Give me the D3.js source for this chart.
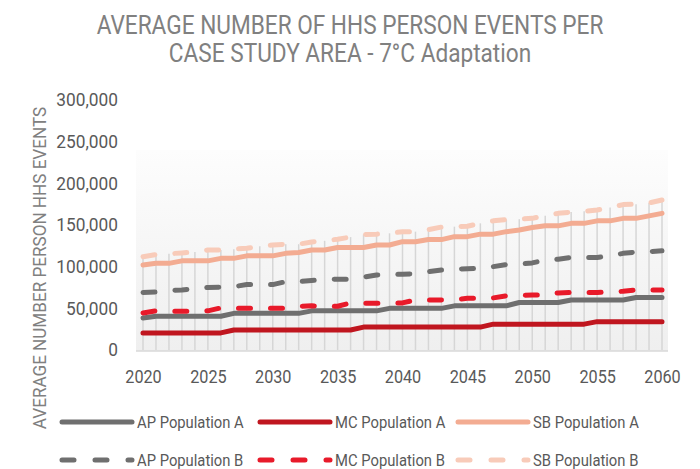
<!DOCTYPE html>
<html>
<head>
<meta charset="utf-8">
<script src="https://cdn.jsdelivr.net/npm/d3@7"></script>
<style>
  html, body { margin: 0; padding: 0; background: #ffffff; }
  svg { display: block; }
  text { font-family: Roboto, "Noto Sans", sans-serif; }
</style>
</head>
<body>
<svg id="chart" width="700" height="469"></svg>
<script>
// Years on the category axis
const years = d3.range(2020, 2061);

// Average number of HHS person events per year, by case study area
const apPopA = [38500, 40500, 40500, 40500, 40500, 40500, 40500, 44000, 44000, 44000,
  44000, 44000, 44000, 47000, 47000, 47000, 47000, 47000, 47000, 50000,
  50000, 50000, 50000, 50000, 53000, 53000, 53000, 53000, 53000, 57000,
  57000, 57000, 57000, 60000, 60000, 60000, 60000, 60000, 63000, 63000, 63000];
const mcPopA = [20500, 20500, 20500, 20500, 20500, 20500, 20500, 24000, 24000, 24000,
  24000, 24000, 24000, 24000, 24000, 24000, 24000, 27500, 27500, 27500,
  27500, 27500, 27500, 27500, 27500, 27500, 27500, 31000, 31000, 31000,
  31000, 31000, 31000, 31000, 31000, 34000, 34000, 34000, 34000, 34000, 34000];
const sbPopA = [102000, 104000, 104000, 107000, 107000, 107000, 110000, 110000, 113000, 113000,
  113000, 116000, 117000, 120000, 120000, 123000, 123000, 123000, 126000, 126000,
  130000, 130000, 132500, 132500, 136000, 136000, 139000, 139000, 142000, 144000,
  147000, 149000, 149000, 152000, 152000, 155000, 155000, 158000, 158000, 161000, 164000];
const apPopB = [69000, 69500, 71500, 72000, 73500, 75000, 75500, 76000, 78500, 78500,
  78500, 82000, 82000, 83500, 84500, 85000, 85000, 87500, 90000, 90500,
  91000, 91500, 94000, 96000, 97000, 97500, 98000, 100000, 102500, 103000,
  104500, 108000, 109000, 111000, 111000, 111000, 113000, 116000, 117500, 118000, 119000];
const mcPopB = [44500, 47000, 46500, 46500, 46500, 47000, 50500, 50000, 50000, 50000,
  50000, 50000, 52500, 53000, 52000, 52500, 56500, 56000, 56000, 56000,
  56500, 60000, 60000, 60000, 60500, 62000, 62000, 62500, 65000, 65500,
  66000, 66000, 68500, 69000, 69000, 69000, 69500, 70500, 72000, 72000, 72000];
const sbPopB = [112000, 114500, 115500, 116500, 117500, 120000, 120000, 121000, 122000, 124500,
  126000, 127000, 127000, 129500, 131000, 133000, 135500, 138500, 139000, 140000,
  142000, 142000, 144500, 147500, 148000, 148500, 152000, 155000, 156500, 157000,
  158000, 161000, 164000, 165500, 166500, 168000, 171000, 174500, 175000, 176500, 180000];

const yTicks = [0, 50000, 100000, 150000, 200000, 250000, 300000];
const xTicks = [2020, 2025, 2030, 2035, 2040, 2045, 2050, 2055, 2060];

const titleLines = ["AVERAGE NUMBER OF HHS PERSON EVENTS PER", "CASE STUDY AREA - 7°C Adaptation"];
const yTitle = "AVERAGE NUMBER PERSON HHS EVENTS";

const series = [
  { name: "AP Population A", values: apPopA, color: "#6f6f6f", dashed: false },
  { name: "MC Population A", values: mcPopA, color: "#c0161f", dashed: false },
  { name: "SB Population A", values: sbPopA, color: "#f3ac92", dashed: false },
  { name: "AP Population B", values: apPopB, color: "#6f6f6f", dashed: true },
  { name: "MC Population B", values: mcPopB, color: "#e81a2a", dashed: true },
  { name: "SB Population B", values: sbPopB, color: "#f8cbb9", dashed: true }
];

const svg = d3.select("#chart");

// Narrow-face look: squeeze each text horizontally by a common factor
function condense(sel, k) {
  sel.each(function () {
    const w = this.getComputedTextLength();
    if (w > 0) {
      d3.select(this).attr("textLength", w * k).attr("lengthAdjust", "spacingAndGlyphs");
    }
  });
}

const x = d3.scaleLinear().domain([2020, 2060]).range([143, 662]);
const y = d3.scaleLinear().domain([0, 300000]).range([350, 100]);

// Plot background with a soft vertical gradient
const defs = svg.append("defs");
const grad = defs.append("linearGradient")
  .attr("id", "plotBg").attr("x1", 0).attr("y1", 0).attr("x2", 0).attr("y2", 1);
grad.append("stop").attr("offset", "0%").attr("stop-color", "#fdfdfd");
grad.append("stop").attr("offset", "100%").attr("stop-color", "#efefef");

svg.append("rect")
  .attr("x", 136).attr("y", 150)
  .attr("width", 532).attr("height", 201)
  .attr("fill", "url(#plotBg)");

// Title
const title = svg.append("g").selectAll("text")
  .data(titleLines)
  .join("text")
  .attr("x", 350)
  .attr("y", (d, i) => 34 + i * 28)
  .attr("text-anchor", "middle")
  .attr("font-size", 26)
  .attr("fill", "#808080")
  .text(d => d);
condense(title, 0.87);

// Drop lines from the highest series down to the axis
const maxPerYear = years.map((yr, i) => d3.max(series, s => s.values[i]));
svg.append("g").selectAll("line")
  .data(years)
  .join("line")
  .attr("x1", d => x(d)).attr("x2", d => x(d))
  .attr("y1", (d, i) => y(maxPerYear[i]))
  .attr("y2", y(0))
  .attr("stroke", "#d6d6d6")
  .attr("stroke-width", 1.5);

// Category axis line
svg.append("line")
  .attr("x1", 136).attr("x2", 668)
  .attr("y1", 351).attr("y2", 351)
  .attr("stroke", "#d9d9d9").attr("stroke-width", 1.5);

// Value axis labels
const yAxis = d3.axisLeft(y).tickValues(yTicks).tickFormat(d3.format(",")).tickSize(0).tickPadding(0);
const yG = svg.append("g").attr("transform", "translate(118,0)").call(yAxis);
yG.select(".domain").remove();
yG.selectAll("text").attr("font-size", 18).attr("fill", "#595959")
  .attr("font-family", "Roboto, 'Noto Sans', sans-serif");
condense(yG.selectAll("text"), 0.96);

// Year labels
const xAxis = d3.axisBottom(x).tickValues(xTicks).tickFormat(d3.format("d")).tickSize(0).tickPadding(0);
const xG = svg.append("g").attr("transform", "translate(0,370)").call(xAxis);
xG.select(".domain").remove();
xG.selectAll("text").attr("font-size", 18).attr("fill", "#595959")
  .attr("font-family", "Roboto, 'Noto Sans', sans-serif");
condense(xG.selectAll("text"), 0.9);

// Value axis title
const yt = svg.append("text")
  .attr("transform", "translate(46,268) rotate(-90)")
  .attr("text-anchor", "middle")
  .attr("font-size", 19)
  .attr("fill", "#808080")
  .text(yTitle);
condense(yt, 0.9);

// Series lines
const line = d3.line()
  .x((d, i) => x(years[i]))
  .y(d => y(d));

const drawOrder = [series[1], series[0], series[4], series[3], series[2], series[5]];
svg.append("g").selectAll("path")
  .data(drawOrder)
  .join("path")
  .attr("d", d => line(d.values))
  .attr("fill", "none")
  .attr("stroke", d => d.color)
  .attr("stroke-width", 5)
  .attr("stroke-linejoin", "round")
  .attr("stroke-linecap", "round")
  .attr("stroke-dasharray", d => d.dashed ? "12,20" : null);

// Legend
const legendX = [62, 260, 458];
const legendY = [422, 460];
const legend = svg.append("g").selectAll("g")
  .data(series)
  .join("g")
  .attr("transform", (d, i) => `translate(${legendX[i % 3]},${legendY[Math.floor(i / 3)]})`);
legend.append("line")
  .attr("x1", 0).attr("x2", 70)
  .attr("y1", 0).attr("y2", 0)
  .attr("stroke", d => d.color)
  .attr("stroke-width", 5)
  .attr("stroke-linecap", "round")
  .attr("stroke-dasharray", d => d.dashed ? "12,21" : null);
const legendText = legend.append("text")
  .attr("x", 75).attr("y", 0)
  .attr("dy", "0.35em")
  .attr("font-size", 17)
  .attr("fill", "#595959")
  .text(d => d.name);
condense(legendText, 0.87);
</script>
</body>
</html>
